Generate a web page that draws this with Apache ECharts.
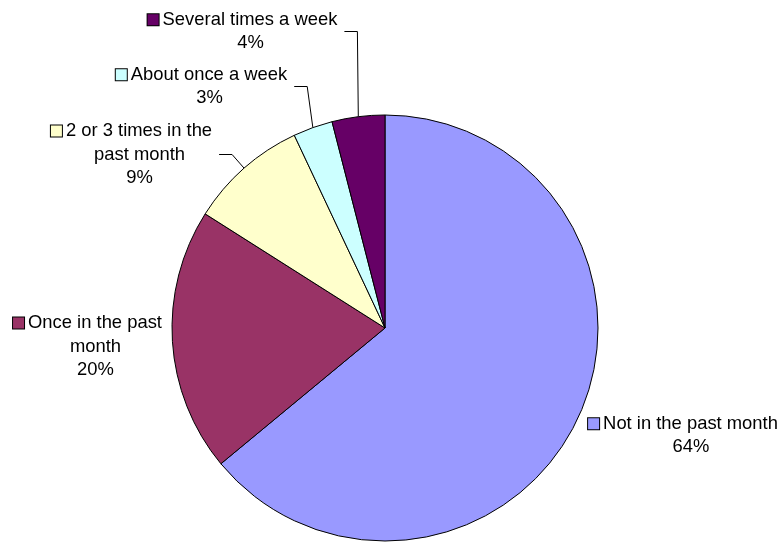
<!DOCTYPE html>
<html>
<head>
<meta charset="utf-8">
<script src="https://cdn.jsdelivr.net/npm/echarts@6/dist/echarts.min.js"></script>
<style>
  html, body { margin: 0; padding: 0; background: #ffffff; }
  #chart { width: 780px; height: 544px; }
</style>
</head>
<body>
<div id="chart"></div>
<script>
// Survey answers, clockwise from 12 o'clock (line breaks as shown in the labels)
const categories = [
  'Not in the past month',
  'Once in the past\nmonth',
  '2 or 3 times in the\npast month',
  'About once a week',
  'Several times a week'
];
const percents = [64, 20, 9, 3, 4];
const colors = ['#9999FF', '#993366', '#FFFFCC', '#CCFFFF', '#660066'];

// Where each label block is centred (x, y) and whether it gets a leader line
const labelSpots = [[683, 435.5], [87.5, 346.5], [131.5, 154.5], [201.5, 86.5], [242.5, 31.5]];
const showLeader = [false, false, true, true, true];

const FONT = "'Liberation Sans', Arial, sans-serif";
const FS = 18.4;
const LH = 23.5;

const rich = {
  t: { color: '#000', fontFamily: FONT, fontSize: FS, lineHeight: LH, padding: [0, 0, 0, 4] },
  p: { color: '#000', fontFamily: FONT, fontSize: FS, lineHeight: LH, padding: [0, 0, 0, 16] }
};
colors.forEach((c, i) => {
  rich['sq' + i] = {
    width: 11, height: 11, lineHeight: LH,
    backgroundColor: c, borderColor: '#000', borderWidth: 1
  };
});

const chart = echarts.init(document.getElementById('chart'), null, { renderer: 'canvas' });

chart.setOption({
  backgroundColor: '#ffffff',
  animation: false,
  series: [{
    type: 'pie',
    center: [385, 328],
    radius: 213,
    startAngle: 90,
    clockwise: true,
    avoidLabelOverlap: false,
    silent: true,
    itemStyle: { borderColor: '#000', borderWidth: 1 },
    label: {
      show: true,
      position: 'outside',
      color: '#000',
      fontFamily: FONT,
      fontSize: FS,
      lineHeight: LH,
      padding: [0, 7, 0, 7],
      formatter: p => {
        const lines = p.name.split('\n');
        let s = '{sq' + p.dataIndex + '|}{t|' + lines[0] + '}';
        for (let i = 1; i < lines.length; i++) s += '\n{p|' + lines[i] + '}';
        return s + '\n{p|' + p.value + '%}';
      },
      rich: rich
    },
    labelLine: {
      show: true,
      length: 10,
      length2: 13,
      minTurnAngle: 90,
      lineStyle: { color: '#000', width: 1 }
    },
    labelLayout: p => {
      const s = labelSpots[p.dataIndex];
      return { x: s[0], y: s[1], align: 'center', verticalAlign: 'middle' };
    },
    data: categories.map((name, i) => ({
      name: name,
      value: percents[i],
      itemStyle: { color: colors[i] },
      labelLine: { show: showLeader[i] }
    }))
  }]
});
</script>
</body>
</html>
